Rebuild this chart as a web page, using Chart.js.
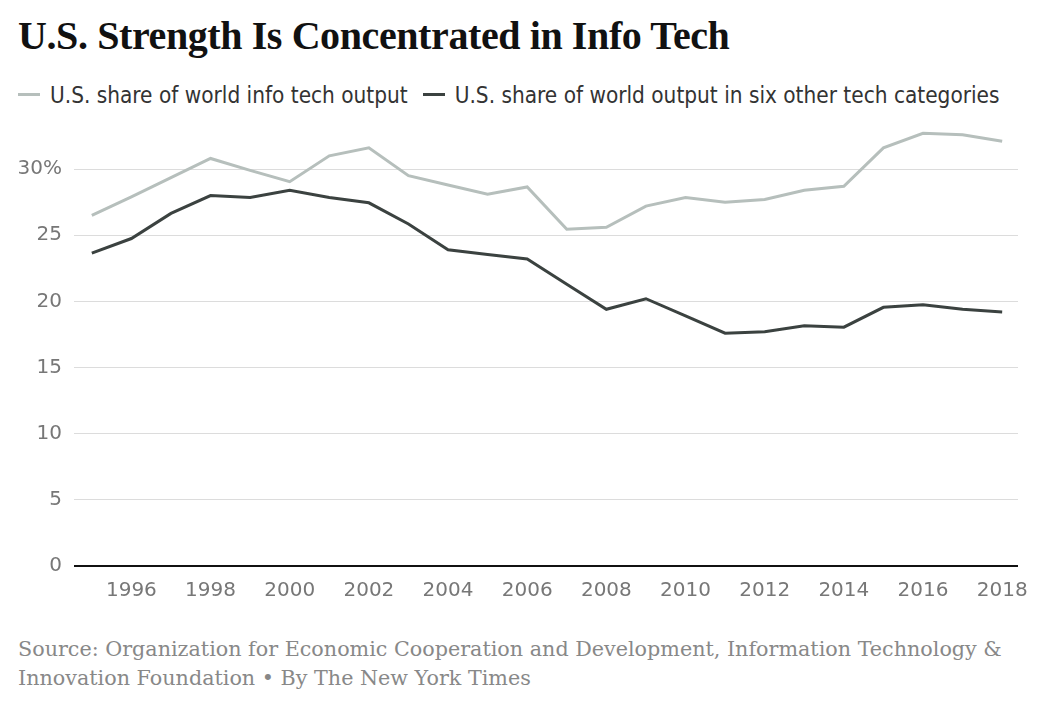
<!DOCTYPE html>
<html>
<head>
<meta charset="utf-8">
<script src="https://cdn.jsdelivr.net/npm/chart.js@4"></script>
<style>
  body { margin: 0; background: #fff; width: 1050px; height: 711px; position: relative; overflow: hidden; }
  #titulo { position: absolute; left: 18px; top: 12px; font-family: 'Liberation Serif', serif; font-weight: bold; font-size: 40px; letter-spacing: -0.4px; color: #111; white-space: nowrap; }
  #legenda { position: absolute; left: 18px; top: 82px; font-family: 'Liberation Sans Narrow', 'DejaVu Sans Condensed', sans-serif; font-size: 22.4px; color: #333; white-space: nowrap; }
  #legenda span.item { margin-right: 15px; }
  #legenda i { display: inline-block; width: 22px; height: 3px; vertical-align: middle; margin-right: 10px; position: relative; top: -2px; }
  #grafico { position: absolute; left: 0; top: 110px; width: 1050px; height: 500px; }
  #fonte { position: absolute; left: 18px; top: 635px; font-family: 'DejaVu Serif', serif; font-size: 20.7px; line-height: 29px; color: #888; white-space: nowrap; }
</style>
</head>
<body>
<div id="titulo">U.S. Strength Is Concentrated in Info Tech</div>
<div id="legenda"></div>
<div id="grafico"><canvas id="linhas"></canvas></div>
<div id="fonte">Source: Organization for Economic Cooperation and Development, Information Technology &amp;<br>Innovation Foundation • By The New York Times</div>
<script>
// dados
const anos = [1995, 1996, 1997, 1998, 1999, 2000, 2001, 2002, 2003, 2004, 2005, 2006,
              2007, 2008, 2009, 2010, 2011, 2012, 2013, 2014, 2015, 2016, 2017, 2018];
const infoTech = [26.5, 27.9, 29.35, 30.8, 29.9, 29.05, 31.0, 31.6, 29.5, 28.8, 28.1, 28.65,
                  25.45, 25.6, 27.2, 27.85, 27.5, 27.7, 28.4, 28.7, 31.6, 32.7, 32.6, 32.1];
const outrasTech = [23.65, 24.75, 26.65, 28.0, 27.85, 28.4, 27.85, 27.45, 25.85, 23.9, 23.55, 23.2,
                    21.3, 19.4, 20.2, 18.9, 17.6, 17.7, 18.15, 18.05, 19.55, 19.75, 19.4, 19.2];
const ticksX = [1996, 1998, 2000, 2002, 2004, 2006, 2008, 2010, 2012, 2014, 2016, 2018];
const ticksY = [0, 5, 10, 15, 20, 25, 30];
const nomes = ['U.S. share of world info tech output', 'U.S. share of world output in six other tech categories'];
const cores = ['#b6bfbc', '#3b4240'];

// legenda em html
document.getElementById('legenda').innerHTML = nomes.map((n, i) =>
    `<span class="item"><i style="background:${cores[i]}"></i>${n}</span>`).join('');

const ctx = document.getElementById('linhas').getContext('2d');

new Chart(ctx, {
    type: 'line',
    data: {
        labels: anos,
        datasets: [
            {
                label: nomes[0],
                data: anos.map((a, i) => ({ x: a, y: infoTech[i] })),
                borderColor: cores[0],
                borderWidth: 3,
                pointRadius: 0,
                tension: 0,
                clip: false
            },
            {
                label: nomes[1],
                data: anos.map((a, i) => ({ x: a, y: outrasTech[i] })),
                borderColor: cores[1],
                borderWidth: 3,
                pointRadius: 0,
                tension: 0,
                clip: false
            }
        ]
    },
    options: {
        responsive: true,
        maintainAspectRatio: false,
        animation: false,
        layout: { padding: { top: 13.5, right: 32, left: 0, bottom: 0 } },
        plugins: {
            legend: { display: false },
            tooltip: { enabled: false }
        },
        scales: {
            x: {
                type: 'linear',
                min: 1994.55,
                max: 2018.4,
                afterBuildTicks: (s) => { s.ticks = ticksX.map(v => ({ value: v })); },
                afterFit: (s) => { s.height = 44; },
                grid: { display: false, drawTicks: false },
                border: { display: false },
                ticks: {
                    padding: 13,
                    color: '#777',
                    font: { family: 'DejaVu Sans', size: 20 },
                    maxRotation: 0,
                    callback: (v) => String(v)
                }
            },
            y: {
                min: 0,
                max: 32.65,
                afterBuildTicks: (s) => { s.ticks = ticksY.map(v => ({ value: v })); },
                afterFit: (s) => { s.width = 74; },
                grid: {
                    drawTicks: false,
                    color: (c) => c.tick && c.tick.value === 0 ? '#111' : '#dcdcdc',
                    lineWidth: (c) => c.tick && c.tick.value === 0 ? 2 : 1
                },
                border: { display: false },
                ticks: {
                    padding: 12,
                    color: '#777',
                    font: { family: 'DejaVu Sans', size: 20 },
                    callback: (v) => v === 30 ? '30%' : String(v)
                }
            }
        }
    }
});
</script>
</body>
</html>
